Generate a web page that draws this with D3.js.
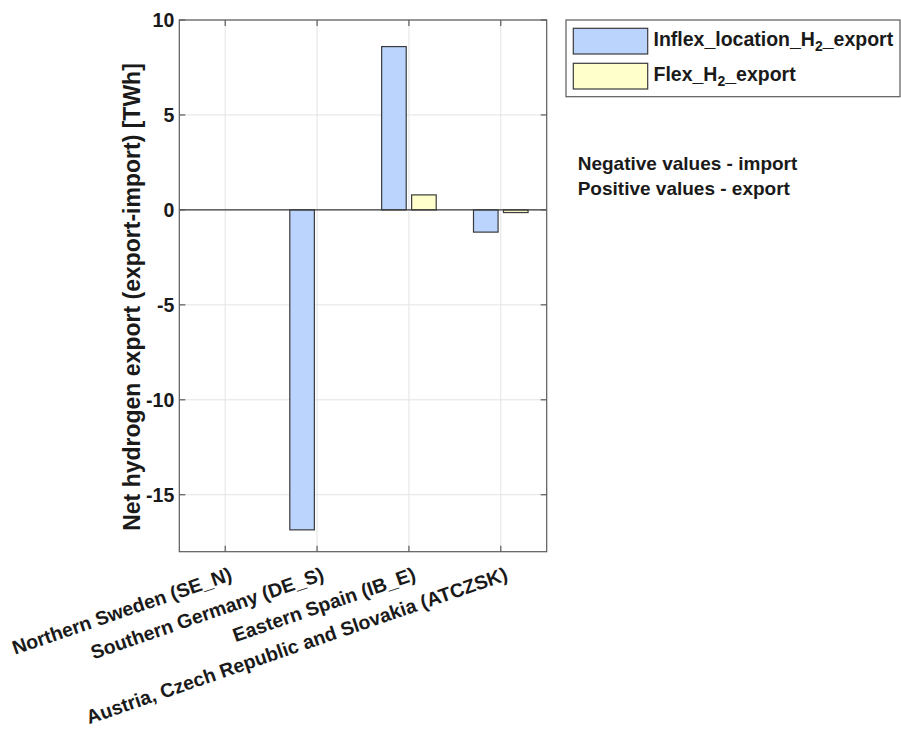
<!DOCTYPE html>
<html>
<head>
<meta charset="utf-8">
<script src="https://cdn.jsdelivr.net/npm/d3@7"></script>
<style>
  body { margin: 0; background: #fff; }
  text { font-family: "Liberation Sans", Arial, Helvetica, sans-serif; font-weight: bold; fill: #1a1a1a; }
</style>
</head>
<body>
<div id="chart"></div>
<script>
// data
var regions = ["Northern Sweden (SE_N)", "Southern Germany (DE_S)", "Eastern Spain (IB_E)", "Austria, Czech Republic and Slovakia (ATCZSK)"];
var inflexExport = [0, -16.85, 8.6, -1.17];
var flexExport = [0, 0, 0.79, -0.14];
var yTicks = [-15, -10, -5, 0, 5, 10];
var seriesNames = ["inflex", "flex"];
var seriesColors = ["#bad4fe", "#ffffcc"];
var notes = ["Negative values - import", "Positive values - export"];

var width = 901, height = 729;
var plot = { left: 179.3, right: 546.7, top: 20, bottom: 551.7 };

var svg = d3.select("#chart").append("svg")
    .attr("width", width)
    .attr("height", height);

var x = d3.scaleBand()
    .domain(regions)
    .range([plot.left, plot.right])
    .padding(0);

var bw = x.bandwidth();
var xSub = d3.scaleBand()
    .domain(seriesNames)
    .range([-0.297 * bw, 0.297 * bw])
    .paddingInner(0.18);

var y = d3.scaleLinear()
    .domain([-18, 10])
    .range([plot.bottom, plot.top]);

// grid
var grid = svg.append("g");
grid.selectAll(".vg")
    .data(regions)
    .enter().append("line")
    .attr("x1", d => x(d) + bw / 2).attr("x2", d => x(d) + bw / 2)
    .attr("y1", plot.top).attr("y2", plot.bottom)
    .attr("stroke", "#e3e3e3").attr("stroke-width", 1);
grid.selectAll(".hg")
    .data(yTicks)
    .enter().append("line")
    .attr("x1", plot.left).attr("x2", plot.right)
    .attr("y1", d => y(d)).attr("y2", d => y(d))
    .attr("stroke", "#e3e3e3").attr("stroke-width", 1);

// bars
var rows = regions.map((r, i) => ({ region: r, inflex: inflexExport[i], flex: flexExport[i] }));
var groups = svg.selectAll(".grp")
    .data(rows)
    .enter().append("g")
    .attr("transform", d => `translate(${x(d.region) + bw / 2},0)`);

groups.selectAll("rect")
    .data(d => seriesNames.map((s, j) => ({ key: s, value: d[s], color: seriesColors[j] })))
    .enter().append("rect")
    .attr("x", d => xSub(d.key))
    .attr("width", xSub.bandwidth())
    .attr("y", d => y(Math.max(0, d.value)))
    .attr("height", d => Math.abs(y(d.value) - y(0)))
    .attr("fill", d => d.color)
    .attr("stroke", "#3a3a3a")
    .attr("stroke-width", 1.2);

// baseline
svg.append("line")
    .attr("x1", plot.left).attr("x2", plot.right)
    .attr("y1", y(0)).attr("y2", y(0))
    .attr("stroke", "#3a3a3a").attr("stroke-width", 1.2);

// axes box + inner ticks
var axisColor = "#5a5a5a";
var tickLen = 6;
svg.append("rect")
    .attr("x", plot.left).attr("y", plot.top)
    .attr("width", plot.right - plot.left).attr("height", plot.bottom - plot.top)
    .attr("fill", "none").attr("stroke", axisColor).attr("stroke-width", 1.2);

var ticks = svg.append("g").attr("stroke", axisColor).attr("stroke-width", 1.2);
yTicks.forEach(function (t) {
    ticks.append("line").attr("x1", plot.left).attr("x2", plot.left + tickLen).attr("y1", y(t)).attr("y2", y(t));
    ticks.append("line").attr("x1", plot.right).attr("x2", plot.right - tickLen).attr("y1", y(t)).attr("y2", y(t));
});
regions.forEach(function (r) {
    var cx = x(r) + bw / 2;
    ticks.append("line").attr("x1", cx).attr("x2", cx).attr("y1", plot.bottom).attr("y2", plot.bottom - tickLen);
    ticks.append("line").attr("x1", cx).attr("x2", cx).attr("y1", plot.top).attr("y2", plot.top + tickLen);
});

// y tick labels
svg.selectAll(".ylab")
    .data(yTicks)
    .enter().append("text")
    .attr("x", plot.left - 5)
    .attr("y", d => y(d))
    .attr("dy", "0.36em")
    .attr("text-anchor", "end")
    .style("font-size", "19.5px")
    .text(d => d);

// x tick labels, rotated
svg.selectAll(".xlab")
    .data(regions)
    .enter().append("text")
    .attr("transform", d => `translate(${x(d) + bw / 2 + 8},${plot.bottom + 28}) rotate(-19)`)
    .attr("text-anchor", "end")
    .style("font-size", "19.5px")
    .text(d => d);

// y axis title
svg.append("text")
    .attr("transform", `translate(140,297) rotate(-90)`)
    .attr("text-anchor", "middle")
    .style("font-size", "23px")
    .text("Net hydrogen export (export-import) [TWh]");

// legend
var legend = svg.append("g");
legend.append("rect")
    .attr("x", 566).attr("y", 20)
    .attr("width", 334).attr("height", 76.7)
    .attr("fill", "#fff").attr("stroke", "#5a5a5a").attr("stroke-width", 1.2);

var legendLabels = [["Inflex_location_H", "_export"], ["Flex_H", "_export"]];
legendLabels.forEach(function (lab, i) {
    var ly = 28.3 + i * 35;
    legend.append("rect")
        .attr("x", 573.3).attr("y", ly)
        .attr("width", 74.4).attr("height", 25.7)
        .attr("fill", seriesColors[i])
        .attr("stroke", "#3a3a3a").attr("stroke-width", 1.2);
    var t = legend.append("text")
        .attr("x", 653.5).attr("y", ly + 17.5)
        .style("font-size", "19.5px");
    t.append("tspan").text(lab[0]);
    t.append("tspan").attr("dy", 5).style("font-size", "14px").text("2");
    t.append("tspan").attr("dy", -5).text(lab[1]);
});

// annotation
svg.selectAll(".note")
    .data(notes)
    .enter().append("text")
    .attr("x", 577.7)
    .attr("y", (d, i) => 170 + i * 25)
    .style("font-size", "19px")
    .text(d => d);
</script>
</body>
</html>
